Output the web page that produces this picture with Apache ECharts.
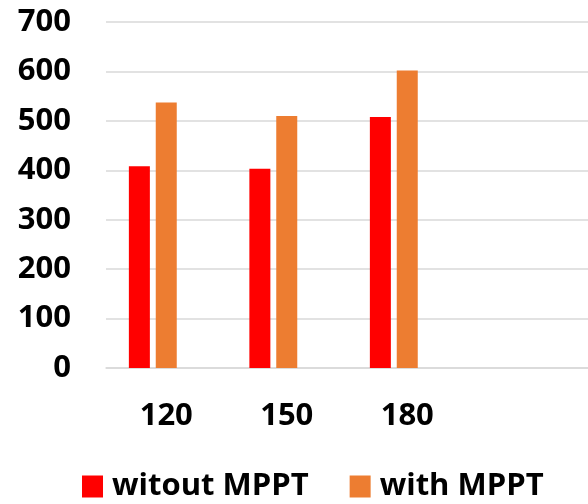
<!DOCTYPE html>
<html>
<head>
<meta charset="utf-8">
<script src="https://cdn.jsdelivr.net/npm/echarts@6/dist/echarts.min.js"></script>
<style>
  html, body { margin: 0; padding: 0; background: #fff; }
  #chart { width: 588px; height: 504px; }
</style>
</head>
<body>
<div id="chart"></div>
<script>
// Output power per irradiance level, with and without MPPT
const categories = ['120', '150', '180', ''];
const withoutMppt = [408, 403, 508, null];
const withMppt = [537, 510, 602, null];
// Third slot in each group is left unused
const spareSlot = [null, null, null, null];
const yTicks = { min: 0, max: 700, interval: 100 };

const labelFont = {
  fontFamily: 'Open Sans',
  fontWeight: 'bold',
  fontSize: 31,
  color: '#000'
};

const chart = echarts.init(document.getElementById('chart'));
chart.setOption({
  animation: false,
  grid: { left: 106, right: 0, top: 22, bottom: 136 },
  legend: {
    data: ['witout MPPT', 'with MPPT'],
    left: 77,
    top: 466,
    icon: 'rect',
    itemWidth: 21,
    itemHeight: 22,
    itemGap: 41,
    textStyle: Object.assign({ padding: [0, 0, 0, 4] }, labelFont)
  },
  xAxis: {
    type: 'category',
    data: categories,
    axisLine: { show: true, lineStyle: { color: '#d9d9d9', width: 1.5 } },
    axisTick: { show: false },
    axisLabel: Object.assign({ margin: 33 }, labelFont),
    splitLine: { show: false }
  },
  yAxis: {
    type: 'value',
    min: yTicks.min,
    max: yTicks.max,
    interval: yTicks.interval,
    axisLine: { show: false },
    axisTick: { show: false },
    axisLabel: Object.assign({ margin: 35 }, labelFont),
    splitLine: { show: true, lineStyle: { color: '#d9d9d9', width: 1.5 } }
  },
  series: [
    {
      name: 'witout MPPT',
      type: 'bar',
      data: withoutMppt,
      barWidth: 21,
      barGap: '28%',
      itemStyle: { color: '#ff0000' }
    },
    {
      name: 'with MPPT',
      type: 'bar',
      data: withMppt,
      barWidth: 21,
      barGap: '28%',
      itemStyle: { color: '#ed7d31' }
    },
    {
      name: 'spare',
      type: 'bar',
      data: spareSlot,
      barWidth: 21,
      barGap: '28%',
      itemStyle: { color: '#a5a5a5' }
    }
  ]
});
</script>
</body>
</html>
